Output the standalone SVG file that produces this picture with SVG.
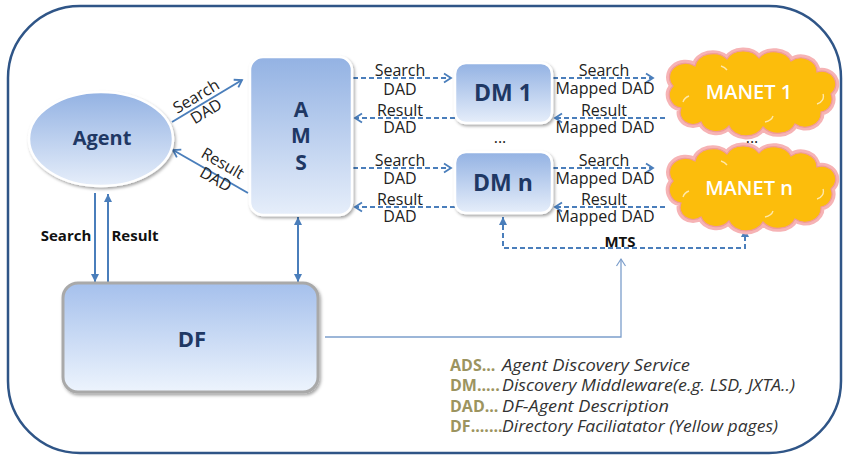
<svg xmlns="http://www.w3.org/2000/svg" xmlns:xlink="http://www.w3.org/1999/xlink" width="844" height="455" viewBox="0 0 844 455">
  <style>
    text { font-family: "Open Sans", "Noto Sans", "DejaVu Sans", sans-serif; }
    .lbl { font-size: 16px; fill: #222; text-anchor: middle; }
    .node { font-weight: bold; fill: #1f3864; text-anchor: middle; }
    .tag { font-size: 15px; font-weight: bold; fill: #111; text-anchor: middle; }
    .cloudtxt { font-size: 20px; font-weight: 600; fill: #ffffff; text-anchor: middle; }
    .abbr { font-size: 16px; font-weight: bold; fill: #9c9460; }
    .desc { font-size: 16px; font-style: italic; fill: #333; }
    .dash { fill: none; stroke: #4a7ebb; stroke-width: 2; stroke-dasharray: 5 3; }
    .solid { fill: none; stroke: #4a7ebb; stroke-width: 2; }
    .thin { fill: none; stroke: #7c9ecb; stroke-width: 1.3; }
    .box { fill: url(#boxGrad); stroke: #ffffff; stroke-width: 2.5; filter: url(#shadow); }
    .glow { fill: none; stroke: #f6b3b5; stroke-width: 7; stroke-linejoin: round; }
    .cloud { fill: #fcbd0c; stroke: #ef9a9a; stroke-width: 1.2; }
    .curl { fill: none; stroke: #fff3cf; stroke-width: 1.4; opacity: 0.8; }
  </style>
  <defs>
    <linearGradient id="boxGrad" x1="0" y1="0" x2="0" y2="1">
      <stop offset="0" stop-color="#93b2e3"/>
      <stop offset="1" stop-color="#e6eefa"/>
    </linearGradient>
    <linearGradient id="dfGrad" x1="0" y1="0" x2="0" y2="1">
      <stop offset="0" stop-color="#a5c0ec"/>
      <stop offset="1" stop-color="#edf4fd"/>
    </linearGradient>
    <filter id="shadow" x="-15%" y="-15%" width="135%" height="135%">
      <feDropShadow dx="1.5" dy="2" stdDeviation="1.6" flood-color="#000" flood-opacity="0.35"/>
    </filter>
    <marker id="open" markerUnits="userSpaceOnUse" markerWidth="12" markerHeight="12" refX="9" refY="6" orient="auto-start-reverse">
      <path d="M2,1.5 L9,6 L2,10.5" fill="none" stroke="#4a7ebb" stroke-width="1.8"/>
    </marker>
    <marker id="openThin" markerUnits="userSpaceOnUse" markerWidth="12" markerHeight="12" refX="9" refY="6" orient="auto-start-reverse">
      <path d="M2,1.5 L9,6 L2,10.5" fill="none" stroke="#7c9ecb" stroke-width="1.2"/>
    </marker>
    <marker id="tri" markerUnits="userSpaceOnUse" markerWidth="10" markerHeight="10" refX="8" refY="4" orient="auto-start-reverse">
      <path d="M0,0 L8,4 L0,8 Z" fill="#4a7ebb"/>
    </marker>
    <path id="cloudShape" d="M -70,16 A 13,13 0 0 1 -78,-6 A 16,14 0 0 1 -56,-26 A 18,14 0 0 1 -24,-33 A 18,14 0 0 1 8,-34 A 18,14 0 0 1 40,-31 A 16,14 0 0 1 66,-20 A 14,13 0 0 1 80,2 A 13,13 0 0 1 70,20 A 16,14 0 0 1 44,32 A 18,14 0 0 1 12,35 A 18,14 0 0 1 -22,34 A 16,14 0 0 1 -50,30 A 13,12 0 0 1 -70,16 Z"/>
    <path id="cloudCurls" d="M 66,12 A 9,8 0 0 0 72,2 M 14,30 A 12,8 0 0 0 22,24 M -68,10 A 10,9 0 0 1 -62,4 M -30,-26 A 12,9 0 0 1 -24,-22"/>
  </defs>

  <!-- outer frame -->
  <rect x="8" y="6" width="833" height="447" rx="72" ry="72" fill="#ffffff" stroke="#2f5587" stroke-width="2.5"/>

  <!-- connectors -->
  <g id="connectors">
    <!-- Agent <-> AMS -->
    <line class="solid" x1="172" y1="122" x2="242" y2="80" marker-end="url(#open)"/>
    <line class="solid" x1="248" y1="193" x2="173" y2="150" marker-end="url(#open)"/>
    <!-- Agent <-> DF -->
    <line class="solid" x1="95" y1="193" x2="95" y2="282" marker-end="url(#tri)"/>
    <line class="solid" x1="108" y1="283" x2="108" y2="194" marker-end="url(#tri)"/>
    <!-- AMS <-> DF -->
    <line class="solid" x1="298" y1="217" x2="298" y2="282" marker-start="url(#tri)" marker-end="url(#tri)"/>
    <!-- AMS <-> DM -->
    <line class="dash" x1="353" y1="78" x2="451" y2="78" marker-end="url(#open)"/>
    <line class="dash" x1="455" y1="118" x2="355" y2="118" marker-end="url(#open)"/>
    <line class="dash" x1="353" y1="168" x2="451" y2="168" marker-end="url(#open)"/>
    <line class="dash" x1="455" y1="207" x2="355" y2="207" marker-end="url(#open)"/>
    <!-- DM <-> MANET -->
    <line class="dash" x1="553" y1="78" x2="653" y2="78" marker-end="url(#open)"/>
    <line class="dash" x1="665" y1="118" x2="555" y2="118" marker-end="url(#open)"/>
    <line class="dash" x1="553" y1="168" x2="653" y2="168" marker-end="url(#open)"/>
    <line class="dash" x1="665" y1="207" x2="555" y2="207" marker-end="url(#open)"/>
    <!-- MTS transport -->
    <path class="dash" d="M503,217 V248 H745 V229" marker-start="url(#tri)" marker-end="url(#tri)"/>
    <!-- DF to MTS -->
    <path class="thin" d="M325,337 H621 V259" marker-end="url(#openThin)"/>

    <!-- connector labels -->
    <text class="lbl" transform="translate(199,101) rotate(-31)">Search</text>
    <text class="lbl" transform="translate(209,116) rotate(-31)">DAD</text>
    <text class="lbl" transform="translate(220,168) rotate(30)">Result</text>
    <text class="lbl" transform="translate(213,184) rotate(30)">DAD</text>

    <text class="tag" x="66" y="241">Search</text>
    <text class="tag" x="135" y="241">Result</text>

    <text class="lbl" x="400" y="76">Search</text>
    <text class="lbl" x="400" y="95">DAD</text>
    <text class="lbl" x="400" y="116">Result</text>
    <text class="lbl" x="400" y="133">DAD</text>
    <text class="lbl" x="400" y="166">Search</text>
    <text class="lbl" x="400" y="184">DAD</text>
    <text class="lbl" x="400" y="205">Result</text>
    <text class="lbl" x="400" y="222">DAD</text>

    <text class="lbl" x="604" y="76">Search</text>
    <text class="lbl" x="605" y="94">Mapped DAD</text>
    <text class="lbl" x="604" y="116">Result</text>
    <text class="lbl" x="605" y="133">Mapped DAD</text>
    <text class="lbl" x="604" y="166">Search</text>
    <text class="lbl" x="605" y="184">Mapped DAD</text>
    <text class="lbl" x="604" y="205">Result</text>
    <text class="lbl" x="605" y="222">Mapped DAD</text>

    <text class="tag" x="620" y="247">MTS</text>
  </g>

  <!-- Agent -->
  <g id="agent">
    <ellipse cx="101" cy="139" rx="72" ry="47" fill="url(#boxGrad)" stroke="#ffffff" stroke-width="2.5" filter="url(#shadow)"/>
    <text class="node" x="102" y="145" font-size="20">Agent</text>
  </g>

  <!-- AMS -->
  <g id="ams">
    <rect class="box" x="250" y="57" width="102" height="158" rx="13"/>
    <text class="node" x="301" y="117" font-size="21">A</text>
    <text class="node" x="301" y="143" font-size="21">M</text>
    <text class="node" x="301" y="170" font-size="21">S</text>
  </g>

  <!-- DM 1 -->
  <g id="dm1">
    <rect class="box" x="455" y="63" width="97" height="60" rx="11"/>
    <text class="node" x="503" y="101" font-size="23">DM 1</text>
  </g>

  <!-- DM n -->
  <g id="dmn">
    <rect class="box" x="455" y="152" width="97" height="61" rx="11"/>
    <text class="node" x="503" y="191" font-size="23">DM n</text>
  </g>

  <text class="lbl" x="500" y="143" font-size="13">...</text>

  <!-- MANET 1 -->
  <g id="manet1" transform="translate(751,92)">
    <use href="#cloudShape" class="glow"/>
    <use href="#cloudShape" class="cloud"/>
    <use href="#cloudCurls" class="curl"/>
    <text class="cloudtxt" x="-2" y="7">MANET 1</text>
  </g>

  <!-- MANET n -->
  <g id="manetn" transform="translate(751,187)">
    <use href="#cloudShape" class="glow"/>
    <use href="#cloudShape" class="cloud"/>
    <use href="#cloudCurls" class="curl"/>
    <text class="cloudtxt" x="-2" y="8">MANET n</text>
  </g>

  <text class="lbl" x="752" y="143" font-size="13">...</text>

  <!-- DF -->
  <g id="df">
    <rect x="63" y="283" width="255" height="109" rx="15" fill="url(#dfGrad)" stroke="#a9a9a9" stroke-width="3" filter="url(#shadow)"/>
    <text class="node" x="192" y="347" font-size="22">DF</text>
  </g>

  <!-- legend -->
  <g id="legend">
    <text class="abbr" x="450" y="371">ADS...</text>
    <text class="desc" x="502" y="371" textLength="188" lengthAdjust="spacingAndGlyphs">Agent Discovery Service</text>
    <text class="abbr" x="450" y="391">DM.....</text>
    <text class="desc" x="502" y="391" textLength="293" lengthAdjust="spacingAndGlyphs">Discovery Middleware(e.g. LSD, JXTA..)</text>
    <text class="abbr" x="450" y="412">DAD...</text>
    <text class="desc" x="502" y="412" textLength="167" lengthAdjust="spacingAndGlyphs">DF-Agent Description</text>
    <text class="abbr" x="450" y="432">DF.......</text>
    <text class="desc" x="502" y="432" textLength="276" lengthAdjust="spacingAndGlyphs">Directory Faciliatator (Yellow pages)</text>
  </g>
</svg>
